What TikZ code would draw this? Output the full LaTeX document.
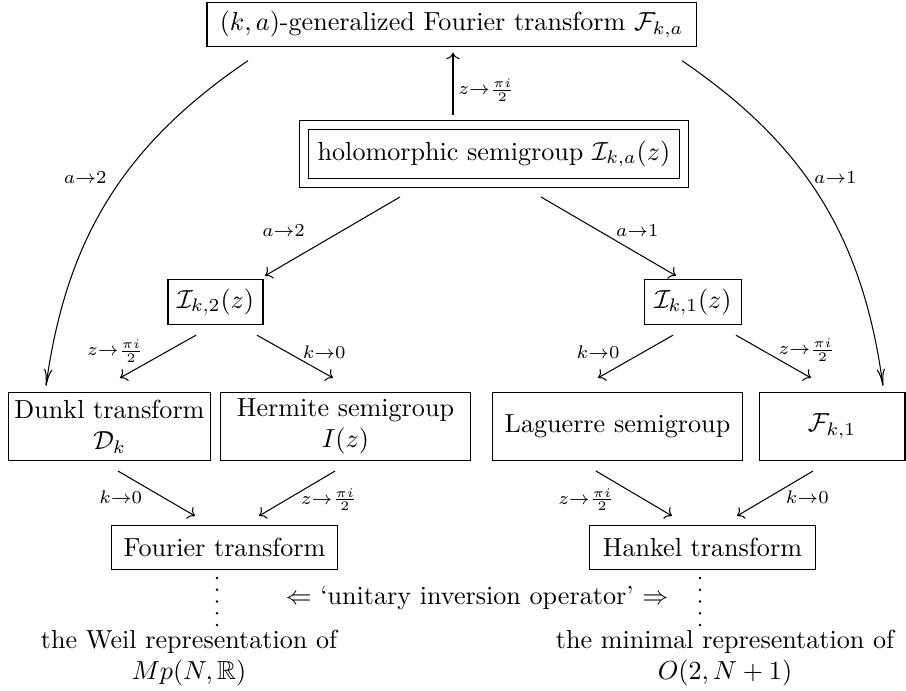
\documentclass[tikz,border=0pt]{standalone}
\usepackage{amssymb}
\usetikzlibrary{calc, positioning, arrows.meta}
\begin{document}
\begin{tikzpicture}
[x=0.383pt, y=-0.383pt,
block_normal/.style ={rectangle, draw, fill=white, text centered, align=center, inner sep=0pt, outer sep=0pt, minimum height=17pt},
block_double/.style ={block_normal, double, double distance=3.05pt, minimum height=22.2pt},
block_tall/.style ={block_normal, minimum height=25.7pt},
block_text/.style ={align=center, inner sep=0pt},
line_arrow/.style ={draw, ->},
line_curve/.style ={draw, -{To[length=6.5pt, width=3.2pt]}},
line_dots/.style ={draw, line width=1.1pt, line cap=round, dash pattern=on 0pt off 4.5pt},
label_small/.style ={inner sep=0pt}]

\useasboundingbox (0,0) rectangle (906,691);

% Kaesten
\node [block_normal, minimum width=187.3pt] (Fka) at (451.5,24.5) {$(k,a)$-generalized Fourier transform $\mathcal{F}_{k,a}$};
\node [block_double, minimum width=145.2pt] (holo) at (494,154) {holomorphic semigroup $\mathcal{I}_{k,a}(z)$};
\node [block_normal, minimum width=36.4pt] (I2) at (215.5,302) {$\mathcal{I}_{k,2}(z)$};
\node [block_normal, minimum width=36.8pt] (I1) at (693,302) {$\mathcal{I}_{k,1}(z)$};
\node [block_tall, minimum width=77pt] (Dk) at (109.5,426.5) {Dunkl transform\\$\mathcal{D}_k$};
\node [block_tall, minimum width=95.4pt] (Herm) at (345.5,426.5) {Hermite semigroup\\$I(z)$};
\node [block_tall, minimum width=95.4pt] (Lag) at (617.5,426.5) {Laguerre semigroup};
\node [block_tall, minimum width=55.9pt] (Fk1) at (832,426.5) {$\mathcal{F}_{k,1}$};
\node [block_normal, minimum width=86.2pt, minimum height=16.5pt] (Four) at (224.5,547.5) {Fourier transform};
\node [block_normal, minimum width=86.2pt, minimum height=16.5pt] (Hank) at (702.5,547.5) {Hankel transform};

% Texte unten
\node [block_text] (Weil) at (189,658) {the Weil representation of\\$Mp(N,\mathbb{R})$};
\node [block_text] (Mini) at (725,658) {the minimal representation of\\$O(2,N+1)$};
\node [block_text] (uio) at (477,598) {$\Leftarrow$ `unitary inversion operator' $\Rightarrow$};

%Pfeile oben
\draw [line_arrow] ($(holo.north)+(-41,-10)$) -- node [label_small, pos=.4, right=1.9pt] {$\scriptstyle z\to\frac{\pi i}{2}$} ($(Fka.south)+(1.5,6)$);
\draw [line_curve] ($(Fka.south)+(-203.5,14)$) to [bend right=24] node [label_small, pos=.43, left=6pt] {$\scriptstyle a\to2$} ($(Dk.north)+(-63.5,-7)$);
\draw [line_curve] ($(Fka.south)+(230.5,14)$) to [bend left=24] node [label_small, pos=.43, right=2.5pt] {$\scriptstyle a\to1$} ($(Fk1.north)+(51,-7)$);
\draw [line_arrow] ($(holo.south)+(-94,14)$) -- node [label_small, pos=.43, left=14pt] {$\scriptstyle a\to2$} ($(I2.north)+(49.5,-4)$);
\draw [line_arrow] ($(holo.south)+(47,14)$) -- node [label_small, pos=.43, right=6.3pt] {$\scriptstyle a\to1$} ($(I1.north)+(-17,-4)$);

%Pfeile Mitte
\draw [line_arrow] ($(I2.south)+(-19.5,11)$) -- node [label_small, pos=.37, left=9.2pt] {$\scriptstyle z\to\frac{\pi i}{2}$} ($(Dk.north)+(10.5,-15)$);
\draw [line_arrow] ($(I2.south)+(41.5,11)$) -- node [label_small, pos=.4, right=5.7pt] {$\scriptstyle k\to0$} ($(Herm.north)+(-12.5,-15)$);
\draw [line_arrow] ($(I1.south)+(-20,11)$) -- node [label_small, pos=.4, left=8.8pt] {$\scriptstyle k\to0$} ($(Lag.north)+(-19.5,-15)$);
\draw [line_arrow] ($(I1.south)+(43,11)$) -- node [label_small, pos=.35, right=6.1pt] {$\scriptstyle z\to\frac{\pi i}{2}$} ($(Fk1.north)+(-21,-15)$);

%Pfeile unten
\draw [line_arrow] ($(Dk.south)+(8.5,11)$) -- node [label_small, pos=.58, left=7.7pt] {$\scriptstyle k\to0$} ($(Four.north)+(-29.5,-10)$);
\draw [line_arrow] ($(Herm.south)+(-10.5,11)$) -- node [label_small, pos=.64, right=5.4pt] {$\scriptstyle z\to\frac{\pi i}{2}$} ($(Four.north)+(34.5,-10)$);
\draw [line_arrow] ($(Lag.south)+(-21.5,11)$) -- node [label_small, pos=.64, left=11.4pt] {$\scriptstyle z\to\frac{\pi i}{2}$} ($(Hank.north)+(-30.5,-10)$);
\draw [line_arrow] ($(Fk1.south)+(-19,11)$) -- node [label_small, pos=.58, right=6.3pt] {$\scriptstyle k\to0$} ($(Hank.north)+(34.5,-10)$);

%Punkte
\draw [line_dots] ($(Four.south)+(-7.5,9)$) -- ++(0,47);
\draw [line_dots] ($(Hank.south)+(-2.5,9)$) -- ++(0,47);

\end{tikzpicture}
\end{document}
